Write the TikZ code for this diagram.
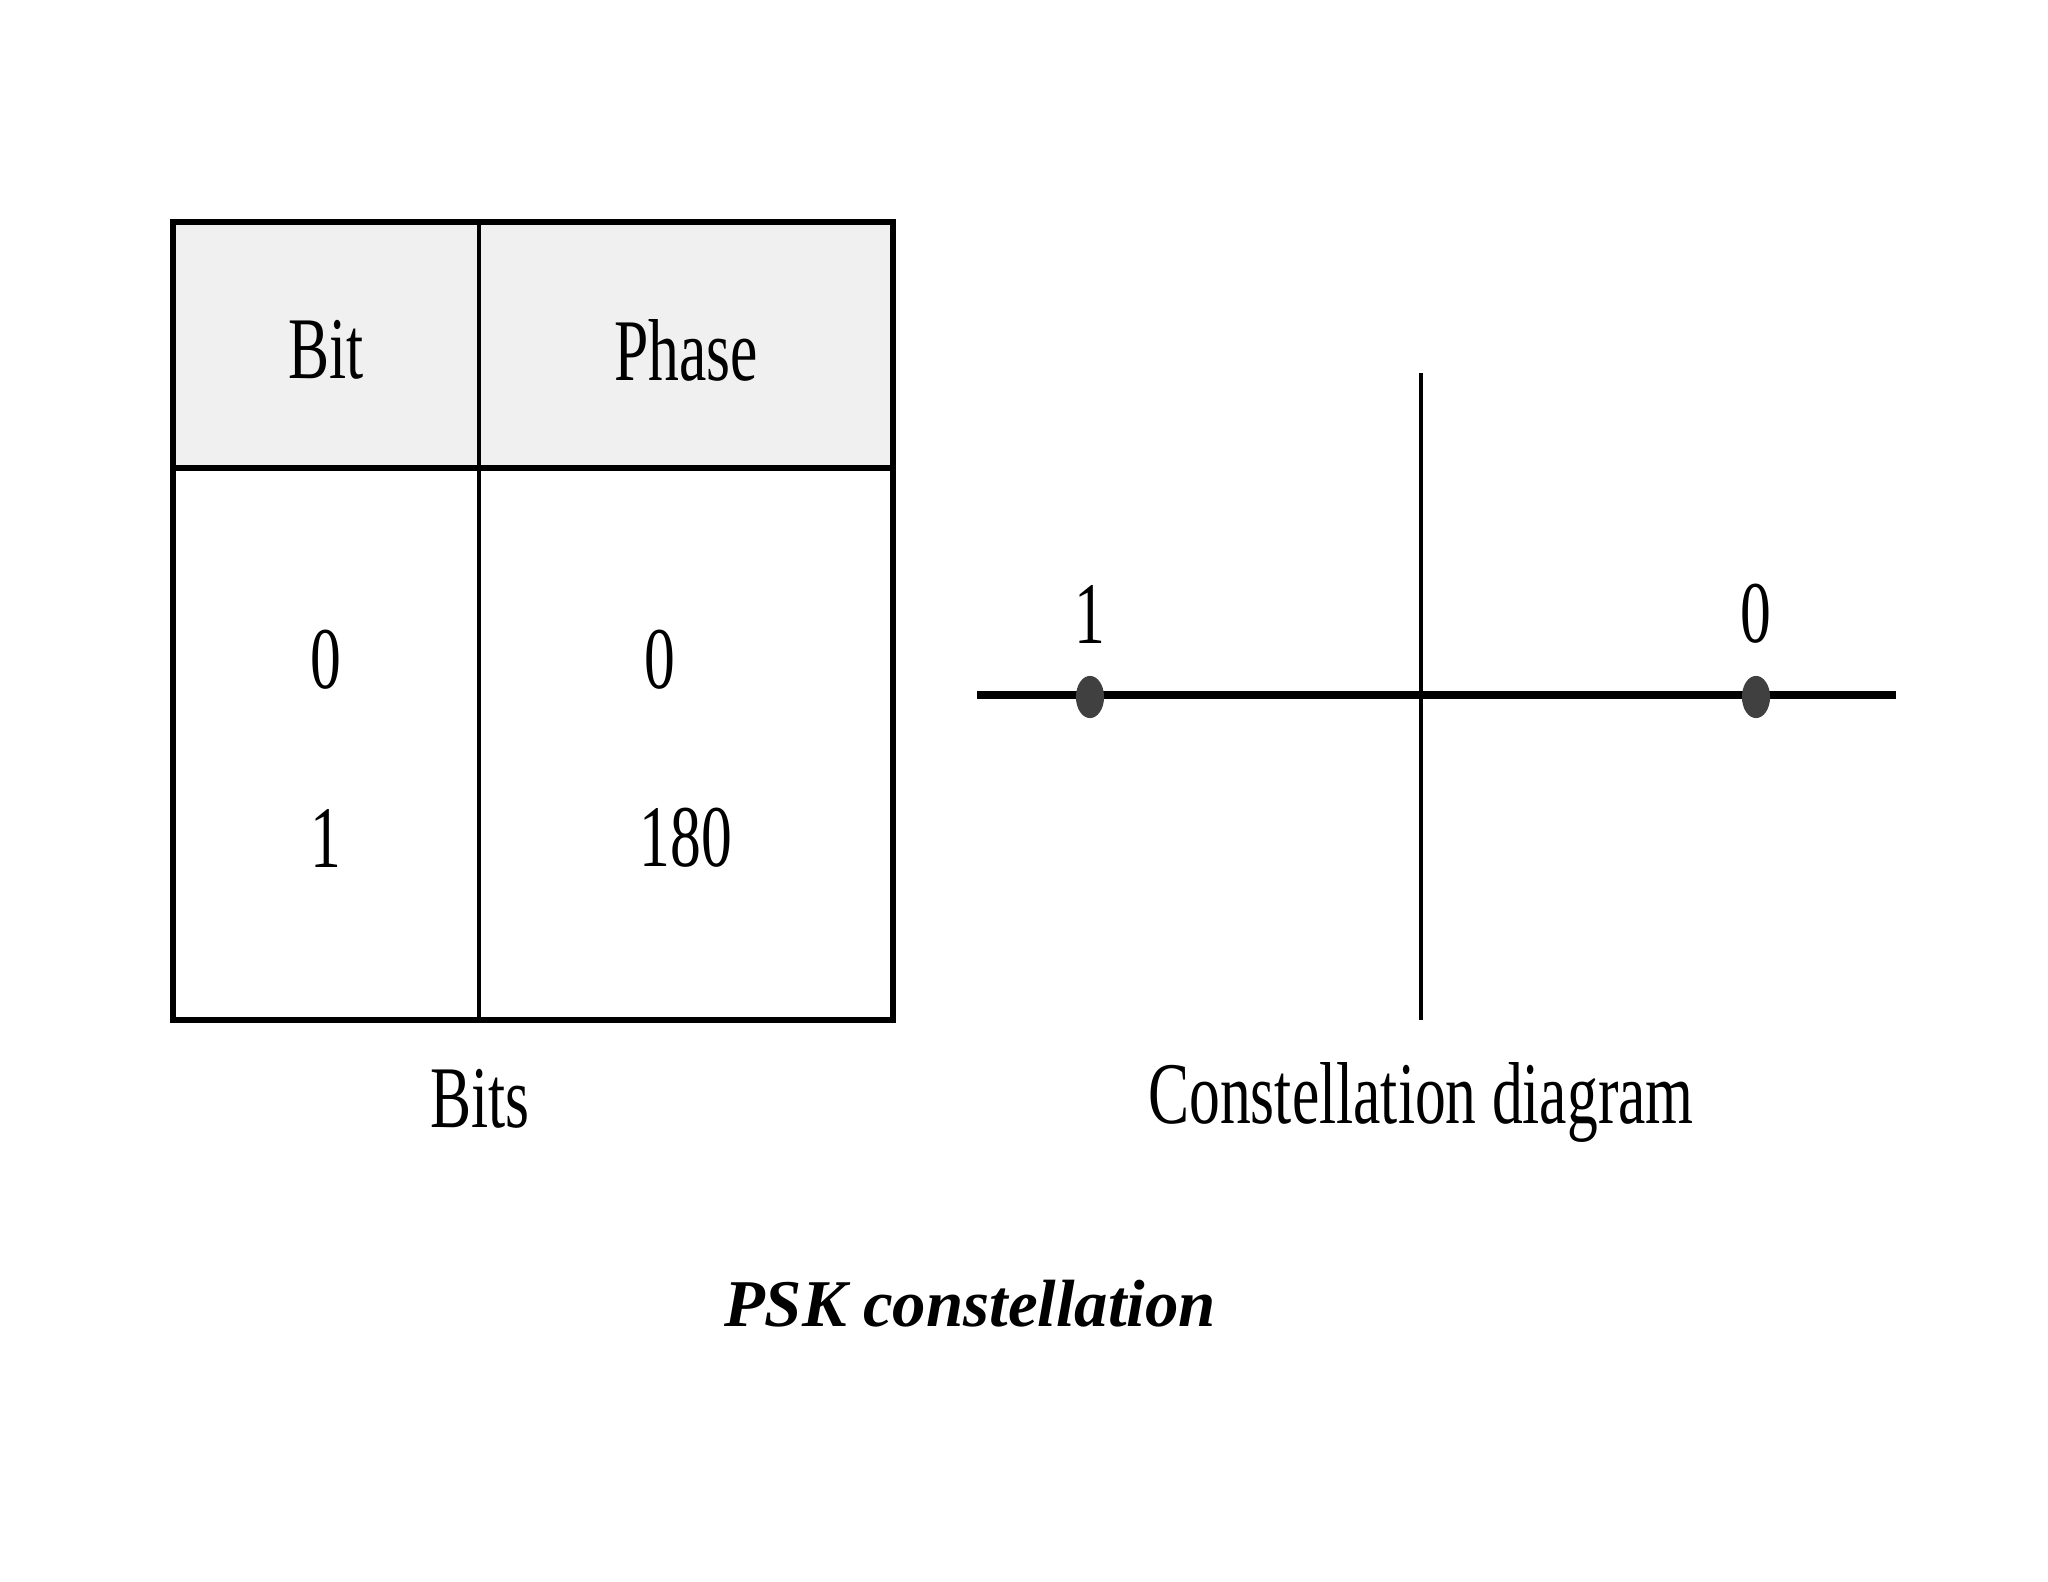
\documentclass[tikz,border=0pt]{standalone}
\usepackage{fontspec}
\usetikzlibrary{shapes.geometric}
\setmainfont{Liberation Serif}
\begin{document}
\begin{tikzpicture}[x=0.01cm,y=-0.01cm,
  lbl/.style={inner sep=0pt,font=\fontsize{25}{28}\selectfont},
  dotn/.style={ellipse,fill=black!75,minimum width=8pt,minimum height=12pt,inner sep=0pt}]
\useasboundingbox (0,0) rectangle (2048,1582);
\fill[gray!12] (173,222) rectangle (893,468);
\draw[line width=1.8pt] (173,222) rectangle (893,1020);
\draw[line width=1.8pt] (173,468) -- (893,468);
\draw[line width=1.2pt] (479,222) -- (479,1020);
\node[lbl] (h1) at (326,350) {\scalebox{0.7}[1]{Bit}};
\node[lbl] (h2) at (686,350) {\scalebox{0.7}[1]{Phase}};
\node[lbl] (a1) at (326,660) {\scalebox{0.7}[1]{0}};
\node[lbl] (a2) at (660,660) {\scalebox{0.7}[1]{0}};
\node[lbl] (b1) at (326,838) {\scalebox{0.7}[1]{1}};
\node[lbl] (b2) at (686,838) {\scalebox{0.7}[1]{180}};
\node[lbl] (bits) at (480,1099) {\scalebox{0.7}[1]{Bits}};
\coordinate (hl) at (977,695); \coordinate (hr) at (1896,695);
\coordinate (vt) at (1421,373); \coordinate (vb) at (1421,1020);
\draw[line width=2.2pt] (hl) -- (hr);
\draw[line width=1.2pt] (vt) -- (vb);
\node[dotn] (d1) at (1090,697) {};
\node[dotn] (d0) at (1756,697) {};
\node[lbl] (l1) at (1090,614) {\scalebox{0.7}[1]{1}};
\node[lbl] (l0) at (1756,614) {\scalebox{0.7}[1]{0}};
\node[lbl] (cd) at (1421,1102) {\scalebox{0.7}[1]{Constellation diagram}};
\node[inner sep=0pt,font=\fontsize{19}{22}\selectfont\bfseries\itshape] (t) at (970,1304) {PSK constellation};
\end{tikzpicture}
\end{document}
